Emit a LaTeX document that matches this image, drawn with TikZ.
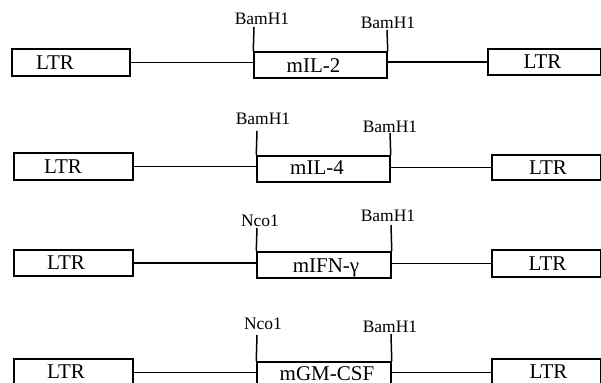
\documentclass[tikz,border=0pt]{standalone}
\usepackage{fontspec}
\setmainfont{Liberation Serif}
\begin{document}
\begin{tikzpicture}[x=1pt,y=-1pt,
  box/.style={draw,line width=1.5pt,rectangle,inner sep=0pt},
  boxtext/.style={font=\fontsize{21}{21}\selectfont},
  site/.style={font=\fontsize{17.5}{17.5}\selectfont,inner sep=0pt},
  wire/.style={line width=1.8pt},
  tick/.style={line width=1.5pt}]
\useasboundingbox (0,0) rectangle (601,382);
\clip (0,0) rectangle (601,382);

% ---- row 1: mIL-2 ----
\node[box,minimum width=118pt,minimum height=27pt,
  label={[boxtext,xshift=-16pt]center:LTR}] (l1) at (71,62.5) {};
\node[box,minimum width=133pt,minimum height=26pt,
  label={[boxtext,xshift=-7pt,yshift=-1pt]center:mIL-2}] (i1) at (320.5,65) {};
\node[box,minimum width=113pt,minimum height=26pt,
  label={[boxtext,xshift=-2pt]center:LTR}] (r1) at (544.5,62) {};
\draw[wire] (l1.east) -- (l1.east -| i1.west);
\draw[wire] (r1.west -| i1.east) -- (r1.west);
\coordinate (t1a) at (254,27);
\coordinate (t1b) at (387,30);
\draw[tick] (i1.north west) -- (t1a);
\draw[tick] (i1.north east) -- (t1b);
\node[site] (s1a) at (262,18.5) {BamH1};
\node[site] (s1b) at (388,23) {BamH1};

% ---- row 2: mIL-4 ----
\node[box,minimum width=119pt,minimum height=27pt,
  label={[boxtext,xshift=-10.5pt]center:LTR}] (l2) at (73.5,166.5) {};
\node[box,minimum width=133pt,minimum height=26pt,
  label={[boxtext,xshift=-6.5pt,yshift=1pt]center:mIL-4}] (i2) at (323.5,169) {};
\node[box,minimum width=109pt,minimum height=25pt,
  label={[boxtext,xshift=1.5pt]center:LTR}] (r2) at (546.5,167.5) {};
\draw[wire] (l2.east) -- (l2.east -| i2.west);
\draw[wire] (r2.west -| i2.east) -- (r2.west);
\coordinate (t2a) at (257,131);
\coordinate (t2b) at (390,133);
\draw[tick] (i2.north west) -- (t2a);
\draw[tick] (i2.north east) -- (t2b);
\node[site] (s2a) at (263,119) {BamH1};
\node[site] (s2b) at (390,127) {BamH1};

% ---- row 3: mIFN-gamma ----
\node[box,minimum width=119pt,minimum height=26pt,
  label={[boxtext,xshift=-7.5pt]center:LTR}] (l3) at (73.5,263) {};
\node[box,minimum width=134pt,minimum height=26pt,
  label={[boxtext,xshift=2pt,yshift=-3pt]center:mIFN-γ}] (i3) at (324,265) {};
\node[box,minimum width=109pt,minimum height=27pt,
  label={[boxtext,xshift=1pt]center:LTR}] (r3) at (546.5,263.5) {};
\draw[wire] (l3.east) -- (l3.east -| i3.west);
\draw[wire] (r3.west -| i3.east) -- (r3.west);
\coordinate (t3a) at (257,228);
\coordinate (t3b) at (391,225);
\draw[tick] (i3.north west) -- (t3a);
\draw[tick] (i3.north east) -- (t3b);
\node[site] (s3a) at (260,221) {Nco1};
\node[site] (s3b) at (388,216) {BamH1};

% ---- row 4: mGM-CSF (runs off the lower edge) ----
\node[box,minimum width=119pt,minimum height=27pt,
  label={[boxtext,xshift=-7.5pt,yshift=1pt]center:LTR}] (l4) at (73.5,372.5) {};
\node[box,minimum width=134pt,minimum height=26pt,
  label={[boxtext,xshift=3pt,yshift=1pt]center:mGM-CSF}] (i4) at (324,375) {};
\node[box,minimum width=109pt,minimum height=27pt,
  label={[boxtext,xshift=2pt,yshift=1pt]center:LTR}] (r4) at (546.5,372.5) {};
\draw[wire] (l4.east) -- (l4.east -| i4.west);
\draw[wire] (r4.west -| i4.east) -- (r4.west);
\coordinate (t4a) at (257,335);
\coordinate (t4b) at (391,334);
\draw[tick] (i4.north west) -- (t4a);
\draw[tick] (i4.north east) -- (t4b);
\node[site] (s4a) at (263,324) {Nco1};
\node[site] (s4b) at (390,327) {BamH1};
\end{tikzpicture}
\end{document}
